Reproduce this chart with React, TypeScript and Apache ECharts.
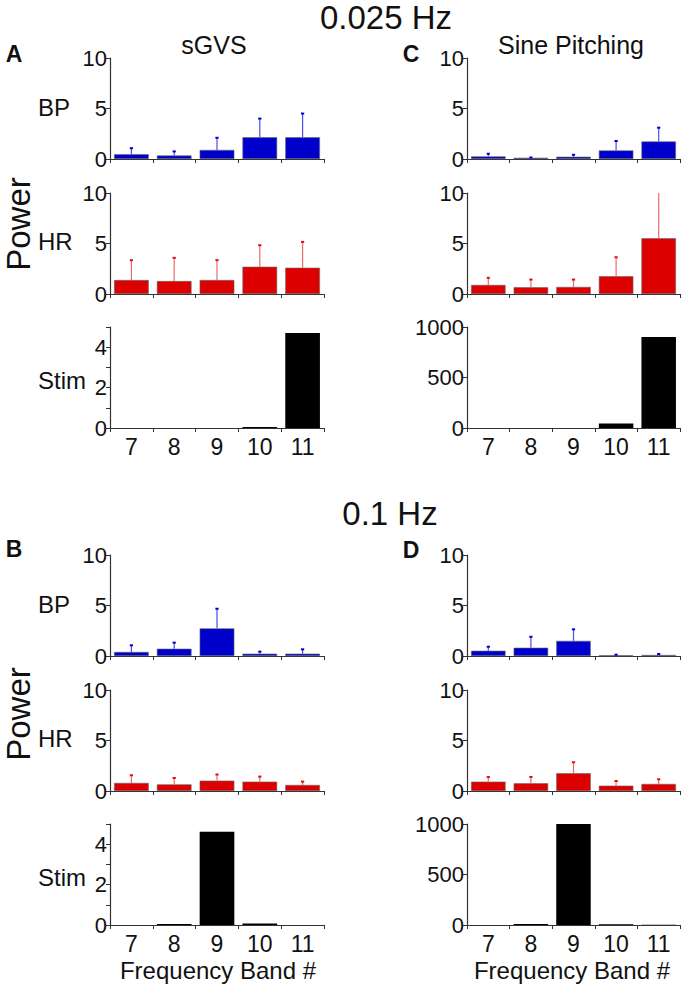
import React, { useEffect, useRef } from "react";
import * as echarts from "echarts";

// ---------- data ----------
const categories = ["7", "8", "9", "10", "11"];

// 0.025 Hz, sGVS (panel A)
const bpA = [0.47, 0.35, 0.9, 2.15, 2.15];
const bpAErr = [0.6, 0.4, 1.2, 1.85, 2.35];
const hrA = [1.38, 1.28, 1.38, 2.7, 2.6];
const hrAErr = [1.97, 2.3, 1.97, 2.13, 2.56];
const stimA = [0, 0, 0, 0.05, 4.7];

// 0.025 Hz, Sine Pitching (panel C)
const bpC = [0.26, 0.12, 0.22, 0.85, 1.74];
const bpCErr = [0.26, 0.03, 0.2, 0.93, 1.36];
const hrC = [0.9, 0.68, 0.7, 1.76, 5.52];
const hrCErr = [0.7, 0.75, 0.73, 1.88, 4.7];
const stimC = [0, 0, 0, 45, 900];

// 0.1 Hz, sGVS (panel B)
const bpB = [0.4, 0.72, 2.74, 0.23, 0.23];
const bpBErr = [0.66, 0.6, 1.94, 0.2, 0.43];
const hrB = [0.8, 0.66, 1.03, 0.93, 0.6];
const hrBErr = [0.76, 0.63, 0.6, 0.5, 0.33];
const stimB = [0, 0.05, 4.62, 0.07, 0];

// 0.1 Hz, Sine Pitching (panel D)
const bpD = [0.52, 0.82, 1.5, 0.07, 0.1];
const bpDErr = [0.4, 1.08, 1.14, 0.06, 0.1];
const hrD = [0.93, 0.76, 1.76, 0.53, 0.7];
const hrDErr = [0.46, 0.63, 1.09, 0.46, 0.46];
const stimD = [0, 10, 1000, 8, 3];

const titles = ["0.025 Hz", "0.1 Hz"];
const columnTitles = ["sGVS", "Sine Pitching"];
const rowLabels = ["BP", "HR", "Stim"];
const panelLetters = ["A", "C", "B", "D"];
const xAxisName = "Frequency Band #";
const yAxisName = "Power";

// ---------- layout / style ----------
const FONT = "'Liberation Sans', Arial, Helvetica, sans-serif";
const COL_LEFT = [110, 467];
const COL_WIDTH = [214, 213];
const ROW_TOP = [
  [58, 193, 327],
  [555, 690, 824],
];
const ROW_H = 101;
const BLUE = "#0000cc";
const BLUE_ERR = "#4b4bf0";
const RED = "#dd0000";
const RED_ERR = "#ee6a6a";

type Panel = {
  col: number;
  half: number;
  bp: number[];
  bpErr: number[];
  hr: number[];
  hrErr: number[];
  stim: number[];
  stimMax: number;
  stimInterval: number;
};

const panels: Panel[] = [
  { col: 0, half: 0, bp: bpA, bpErr: bpAErr, hr: hrA, hrErr: hrAErr, stim: stimA, stimMax: 5, stimInterval: 1 },
  { col: 1, half: 0, bp: bpC, bpErr: bpCErr, hr: hrC, hrErr: hrCErr, stim: stimC, stimMax: 1000, stimInterval: 500 },
  { col: 0, half: 1, bp: bpB, bpErr: bpBErr, hr: hrB, hrErr: hrBErr, stim: stimB, stimMax: 5, stimInterval: 1 },
  { col: 1, half: 1, bp: bpD, bpErr: bpDErr, hr: hrD, hrErr: hrDErr, stim: stimD, stimMax: 1000, stimInterval: 500 },
];

function errRender(lineColor: string, capColor: string) {
  return (params: any, api: any) => {
    const x = api.value(0);
    const v = api.value(1);
    const e = api.value(2);
    const p0 = api.coord([x, v]);
    const p1 = api.coord([x, v + e]);
    return {
      type: "group",
      children: [
        {
          type: "line",
          shape: { x1: p0[0], y1: p0[1], x2: p1[0], y2: p1[1] },
          style: { stroke: lineColor, lineWidth: 1.2 },
        },
        {
          type: "line",
          shape: { x1: p1[0] - 1.6, y1: p1[1], x2: p1[0] + 1.6, y2: p1[1] },
          style: { stroke: capColor, lineWidth: 2 },
        },
      ],
    };
  };
}

function buildOption() {
  const grid: any[] = [];
  const xAxis: any[] = [];
  const yAxis: any[] = [];
  const series: any[] = [];

  panels.forEach((p) => {
    for (let r = 0; r < 3; r++) {
      const idx = grid.length;
      grid.push({
        left: COL_LEFT[p.col],
        width: COL_WIDTH[p.col],
        top: ROW_TOP[p.half][r],
        height: ROW_H,
        containLabel: false,
      });
      const isStim = r === 2;
      xAxis.push({
        type: "category",
        gridIndex: idx,
        data: categories,
        boundaryGap: true,
        axisLine: { show: true, lineStyle: { color: "#333", width: 1.2 } },
        axisTick: { show: true, length: 4, lineStyle: { color: "#333" } },
        axisLabel: {
          show: isStim,
          fontSize: 23,
          fontFamily: FONT,
          color: "#111",
          margin: 7,
        },
        splitLine: { show: false },
      });
      const max = isStim ? p.stimMax : 10;
      const interval = isStim ? p.stimInterval : 5;
      yAxis.push({
        type: "value",
        gridIndex: idx,
        min: 0,
        max,
        interval,
        axisLine: { show: true, lineStyle: { color: "#333", width: 1.2 } },
        axisTick: { show: true, length: 4, lineStyle: { color: "#333" } },
        axisLabel: {
          fontSize: 22,
          fontFamily: FONT,
          color: "#111",
          margin: 3,
          formatter: (v: number) =>
            isStim && p.stimMax === 5 ? (v % 2 === 0 ? String(v) : "") : String(v),
        },
        splitLine: { show: false },
      });
      const values = r === 0 ? p.bp : r === 1 ? p.hr : p.stim;
      const color = r === 0 ? BLUE : r === 1 ? RED : "#000";
      series.push({
        type: "bar",
        xAxisIndex: idx,
        yAxisIndex: idx,
        data: values,
        barCategoryGap: "19%",
        itemStyle: {
          color,
          borderColor: r === 2 ? "#000" : "#666",
          borderWidth: r === 2 ? 0 : 0.6,
        },
        silent: true,
      });
      if (!isStim) {
        const errs = r === 0 ? p.bpErr : p.hrErr;
        series.push({
          type: "custom",
          xAxisIndex: idx,
          yAxisIndex: idx,
          clip: true,
          data: values.map((v, i) => [i, v, errs[i]]),
          renderItem:
            r === 0 ? errRender(BLUE_ERR, BLUE) : errRender(RED_ERR, "#e01010"),
          z: 3,
          silent: true,
        });
      }
    }
  });

  const graphic: any[] = [];
  const txt = (
    text: string,
    x: number,
    y: number,
    font: string,
    align = "center",
    rotation = 0
  ) => ({
    type: "text",
    x,
    y,
    rotation,
    style: {
      text,
      font,
      fill: "#111",
      textAlign: align,
      textVerticalAlign: "middle",
    },
  });

  // section titles
  graphic.push(txt(titles[0], 386, 17, `33px ${FONT}`));
  graphic.push(txt(titles[1], 390, 513, `33px ${FONT}`));
  // column titles
  graphic.push(txt(columnTitles[0], 214, 45, `25px ${FONT}`));
  graphic.push(txt(columnTitles[1], 571, 45, `25px ${FONT}`));
  // panel letters
  graphic.push(txt(panelLetters[0], 14, 54, `bold 23px ${FONT}`));
  graphic.push(txt(panelLetters[1], 411, 54, `bold 23px ${FONT}`));
  graphic.push(txt(panelLetters[2], 14, 549, `bold 23px ${FONT}`));
  graphic.push(txt(panelLetters[3], 411, 550, `bold 23px ${FONT}`));
  // row labels (left column only)
  const rowOffsets = [-52, -53, -48];
  for (let h = 0; h < 2; h++) {
    for (let r = 0; r < 3; r++) {
      const zeroY = ROW_TOP[h][r] + ROW_H;
      graphic.push(txt(rowLabels[r], 38, zeroY + rowOffsets[r], `24px ${FONT}`, "left"));
    }
  }
  // Power labels
  graphic.push(txt(yAxisName, 18, 224, `33px ${FONT}`, "center", Math.PI / 2));
  graphic.push(txt(yAxisName, 18, 714, `33px ${FONT}`, "center", Math.PI / 2));
  // x axis names
  graphic.push(txt(xAxisName, 218, 970, `24px ${FONT}`));
  graphic.push(txt(xAxisName, 572, 970, `24px ${FONT}`));

  return {
    animation: false,
    backgroundColor: "#fff",
    grid,
    xAxis,
    yAxis,
    series,
    graphic,
  };
}

export default function App() {
  const ref = useRef<HTMLDivElement>(null);
  useEffect(() => {
    if (!ref.current) return;
    const chart = echarts.init(ref.current, undefined, { renderer: "svg" });
    chart.setOption(buildOption());
    return () => chart.dispose();
  }, []);
  return (
    <div
      ref={ref}
      style={{
        position: "fixed",
        left: 0,
        top: 0,
        width: 685,
        height: 988,
        background: "#fff",
      }}
    />
  );
}
